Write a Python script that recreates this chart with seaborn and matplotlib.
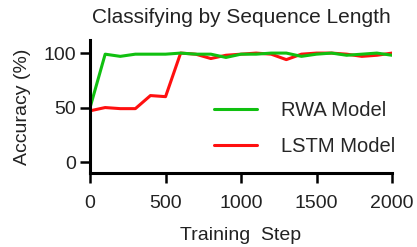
import matplotlib
matplotlib.use("Agg")
import matplotlib.pyplot as plt
import seaborn as sns
import pandas as pd

# data (every 100 steps)
steps = list(range(0, 2001, 100))
rwa = [50, 99, 97, 99, 99, 99, 100, 99, 99, 96, 99, 99, 100, 100, 97, 99, 100, 98, 99, 100, 98]
lstm = [47, 50, 49, 49, 61, 60, 100, 99, 95, 98, 99, 100, 99, 94, 99, 100, 100, 99, 97, 98, 100]

df = pd.DataFrame({
    "step": steps * 2,
    "acc": lstm + rwa,
    "model": ["LSTM Model"] * len(steps) + ["RWA Model"] * len(steps),
})

sns.set_style("ticks")
plt.rcParams["font.family"] = ["Liberation Sans", "DejaVu Sans"]

fig = plt.figure(figsize=(4.17, 2.47), dpi=100)
ax = fig.add_axes([0.216, 0.30, 0.724, 0.538])

sns.lineplot(data=df, x="step", y="acc", hue="model",
             palette={"LSTM Model": "#ff1010", "RWA Model": "#10c010"},
             linewidth=2.2, ax=ax)

ax.set_xlim(0, 2000)
ax.set_ylim(-10, 112)
ax.set_xticks([0, 500, 1000, 1500, 2000])
ax.set_yticks([0, 50, 100])
ax.tick_params(labelsize=14, width=1.8, length=7, color="black", labelcolor="#222222")
ax.tick_params(axis="x", pad=9)
ax.tick_params(axis="y", pad=3)
for s in ["left", "bottom"]:
    ax.spines[s].set_linewidth(2.2)
    ax.spines[s].set_color("black")
sns.despine(ax=ax)

ax.set_title("Classifying by Sequence Length", fontsize=15, color="#222222", pad=12)
ax.set_xlabel("Training  Step", fontsize=14, color="#222222", labelpad=10.5)
ax.set_ylabel("Accuracy (%)", fontsize=14, color="#222222", labelpad=9)

handles, labels = ax.get_legend_handles_labels()
order = [labels.index("RWA Model"), labels.index("LSTM Model")]
ax.legend([handles[i] for i in order], [labels[i] for i in order],
          frameon=False, fontsize=14.5, loc="lower right",
          bbox_to_anchor=(1.07, -0.01), handlelength=2.1, handletextpad=1.2,
          labelspacing=0.85)

fig.savefig("out.png", dpi=100)
